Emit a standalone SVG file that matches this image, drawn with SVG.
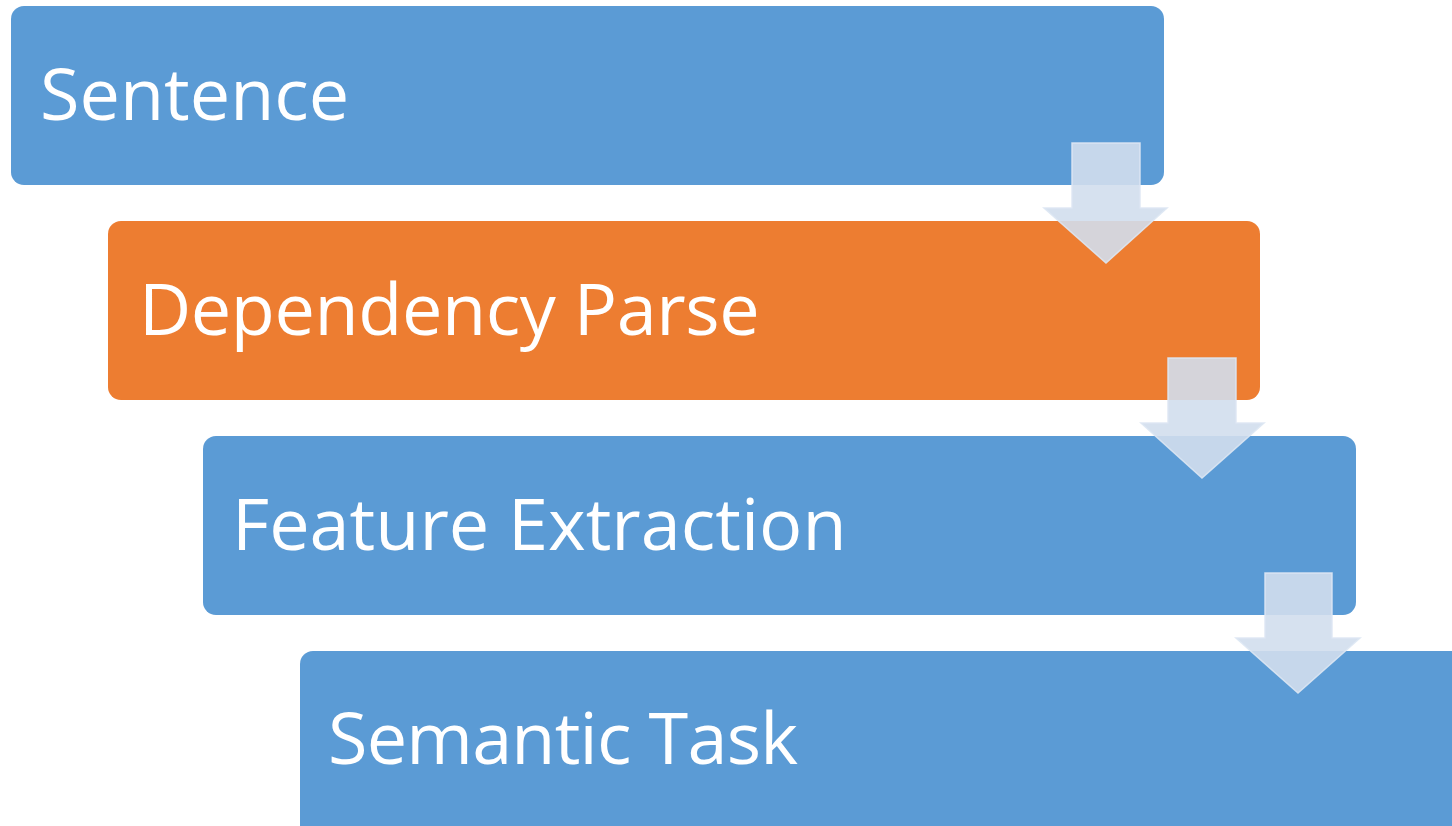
<svg xmlns="http://www.w3.org/2000/svg" width="1452" height="826" viewBox="0 0 1452 826">
  <style>
    .box { stroke: none; }
    .blue { fill: #5b9bd5; }
    .orange { fill: #ed7d31; }
    .label { font-family: "Open Sans", "Liberation Sans", sans-serif; font-size: 72px; fill: #ffffff; }
    .arrow { fill: rgb(209,222,237); fill-opacity: 0.9; stroke: #dde7f3; stroke-opacity: 0.9; stroke-width: 1.5; }
  </style>
  <rect width="1452" height="826" fill="#ffffff"/>

  <g id="node-sentence">
    <rect class="box blue" x="11" y="6" width="1153" height="179" rx="13"/>
    <text class="label" x="40" y="120">Sentence</text>
  </g>
  <g id="node-dependency-parse">
    <rect class="box orange" x="108" y="221" width="1152" height="179" rx="13"/>
    <text class="label" x="139" y="335" letter-spacing="-0.4">Dependency Parse</text>
  </g>
  <g id="node-feature-extraction">
    <rect class="box blue" x="203" y="436" width="1153" height="179" rx="13"/>
    <text class="label" x="232" y="550">Feature Extraction</text>
  </g>
  <g id="node-semantic-task">
    <rect class="box blue" x="300" y="651" width="1165" height="190" rx="13"/>
    <text class="label" x="328" y="764" letter-spacing="-0.8">Semantic Task</text>
  </g>

  <g id="connectors">
    <polygon class="arrow" points="1072,143 1140,143 1140,208 1167,208 1106,263 1044,208 1072,208"/>
    <polygon class="arrow" points="1168,358 1236,358 1236,423 1264,423 1202,478 1141,423 1168,423"/>
    <polygon class="arrow" points="1265,573 1332,573 1332,638 1360,638 1298,693 1236,638 1265,638"/>
  </g>
</svg>
